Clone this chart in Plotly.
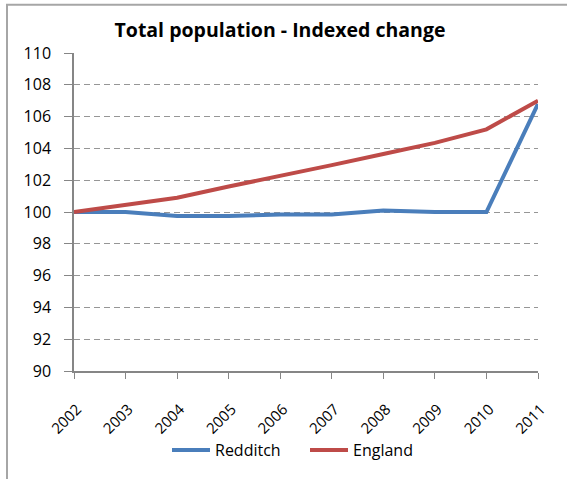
import plotly.graph_objects as go

years = ["2002", "2003", "2004", "2005", "2006", "2007", "2008", "2009", "2010", "2011"]
redditch = [100.0, 100.0, 99.75, 99.75, 99.85, 99.85, 100.1, 100.0, 100.0, 106.8]
england = [100.0, 100.45, 100.9, 101.6, 102.25, 102.95, 103.65, 104.35, 105.2, 107.0]
y_ticks = [90, 92, 94, 96, 98, 100, 102, 104, 106, 108, 110]

W, H = 567, 479
ML, MR, MT, MB = 74, 29, 53, 96
PW, PH = W - ML - MR, H - MT - MB

fig = go.Figure()
fig.add_trace(go.Scatter(x=list(range(len(years))), y=redditch, name="Redditch",
                         mode="lines", line=dict(color="#4A7EBB", width=4)))
fig.add_trace(go.Scatter(x=list(range(len(years))), y=england, name="England",
                         mode="lines", line=dict(color="#BE4B48", width=4)))

font = "Open Sans, Liberation Sans, sans-serif"

# outer chart frame (only top and left edges fall inside the page)
fig.add_shape(type="rect", xref="paper", yref="paper", layer="below",
              x0=(7 - ML) / PW, x1=(W + 60 - ML) / PW,
              y0=-(H + 60 - MT - PH) / PH, y1=1 + (MT - 3) / PH,
              line=dict(color="#A6A6A6", width=2), fillcolor="rgba(0,0,0,0)")

fig.update_layout(
    width=W, height=H,
    margin=dict(l=ML, r=MR, t=MT, b=MB),
    paper_bgcolor="white", plot_bgcolor="white",
    title=dict(text="<b>Total population - Indexed change</b>", x=280 / W, xanchor="center",
               y=1 - 30 / H, yanchor="middle",
               font=dict(family=font, size=19.5, color="black")),
    font=dict(family=font, size=16, color="black"),
    showlegend=True,
    legend=dict(orientation="h", x=(167 - ML) / PW, xanchor="left",
                y=-(465 - MT - PH) / PH, yanchor="middle",
                font=dict(family=font, size=16, color="black"),
                itemwidth=38, entrywidth=85, entrywidthmode="pixels",
                bgcolor="rgba(0,0,0,0)"),
    xaxis=dict(range=[0, len(years) - 1], tickmode="array",
               tickvals=list(range(len(years))), ticktext=years,
               tickangle=-45, showgrid=False, showline=True, linecolor="#868686",
               linewidth=1.5, ticks="outside", ticklen=6, tickcolor="#868686",
               ticklabelstandoff=16, ticklabelshift=3,
               tickfont=dict(family=font, size=15, color="black"), zeroline=False),
    yaxis=dict(range=[90, 110], tickmode="array", tickvals=y_ticks,
               showgrid=True, gridcolor="#969696", griddash="6px,4px", gridwidth=1.3,
               showline=True, linecolor="#868686", linewidth=1.5,
               ticks="outside", ticklen=8, tickcolor="#868686", ticklabelstandoff=10,
               tickfont=dict(family=font, size=16, color="black"), zeroline=False),
)

fig.write_html("out.html")
